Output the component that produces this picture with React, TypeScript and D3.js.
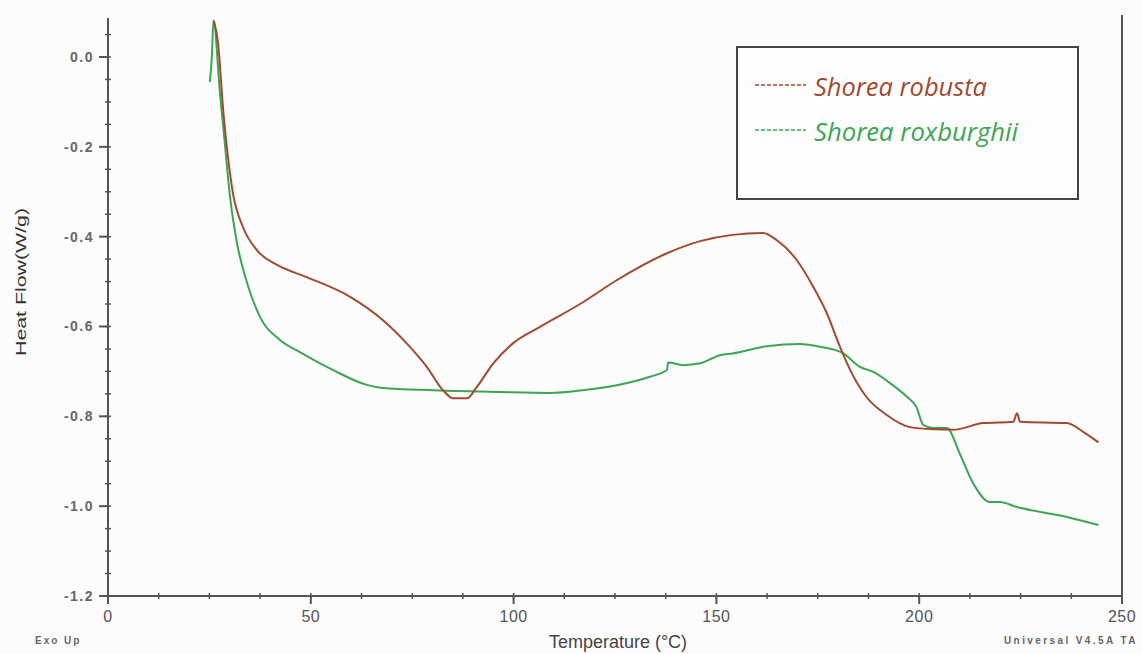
import React, { useEffect, useRef } from 'react';
import * as d3 from 'd3';

// Heat flow (W/g) vs temperature (°C)
const robustaTemp = [26.1, 27.1, 28.4, 30.8, 33.3, 36.7, 41.7, 49, 59.7, 67.8, 74.5, 78.6, 82.6, 85.1, 88.5, 90.9, 95, 99.9, 106.5, 117.1, 125.4, 137.8, 146, 154, 161.5, 164.9, 169.8, 173.9, 177.2, 180.5, 183, 187, 192, 197.7, 203.4, 208.4, 215.8, 223.2, 224.1, 224.9, 236.4, 240.5, 244.2];
const robustaFlow = [0.08, 0.033, -0.118, -0.303, -0.379, -0.43, -0.463, -0.49, -0.534, -0.586, -0.646, -0.69, -0.742, -0.76, -0.76, -0.735, -0.682, -0.637, -0.601, -0.546, -0.497, -0.437, -0.41, -0.396, -0.392, -0.408, -0.452, -0.512, -0.57, -0.646, -0.697, -0.757, -0.797, -0.824, -0.829, -0.83, -0.815, -0.812, -0.793, -0.812, -0.815, -0.835, -0.858];

const roxTemp = [25.1, 25.6, 26.0, 27.6, 28.8, 30.1, 31.8, 34.3, 37.5, 42.4, 47.3, 55.5, 63.8, 67.8, 80.2, 96.6, 109, 117, 125.4, 133.6, 137.8, 138.1, 141.8, 146, 150.9, 154, 162.4, 170.6, 175.5, 181.3, 185.4, 188.7, 192.8, 196.9, 199.3, 201, 203.4, 206.8, 210, 213.3, 217.5, 219.9, 224.1, 236.4, 244.2];
const roxFlow = [-0.056, 0.0, 0.082, -0.08, -0.192, -0.312, -0.414, -0.503, -0.579, -0.63, -0.657, -0.697, -0.73, -0.737, -0.742, -0.746, -0.748, -0.742, -0.731, -0.712, -0.697, -0.68, -0.686, -0.682, -0.664, -0.66, -0.644, -0.639, -0.645, -0.66, -0.69, -0.701, -0.726, -0.756, -0.779, -0.819, -0.826, -0.826, -0.883, -0.949, -0.991, -0.991, -1.002, -1.024, -1.042];

const xTicks = [0, 50, 100, 150, 200, 250];
const yTicks = [0.0, -0.2, -0.4, -0.6, -0.8, -1.0, -1.2];
const seriesNames = ['Shorea robusta', 'Shorea roxburghii'];
const seriesColors = ['#a24a30', '#3ca653'];

const App = () => {
  const ref = useRef(null);

  useEffect(() => {
    const W = 1142;
    const H = 654;
    const root = d3.select(ref.current);
    root.selectAll('*').remove();

    const svg = root.append('svg')
      .attr('width', W)
      .attr('height', H)
      .style('display', 'block')
      .style('background', '#fcfcfc');

    const x = d3.scaleLinear().domain([0, 250]).range([108, 1122]);
    const y = d3.scaleLinear().domain([-1.2, 0]).range([596, 57]);
    const yTop = 0.087;
    const axisColor = '#555';

    // Y axis
    svg.append('line')
      .attr('x1', x(0)).attr('x2', x(0))
      .attr('y1', y(yTop)).attr('y2', y(-1.2))
      .attr('stroke', axisColor).attr('stroke-width', 2);
    const yMinor = d3.range(-24, 2).map(i => i * 0.05);
    svg.selectAll('.ymin').data(yMinor).enter().append('line')
      .attr('x1', x(0) - 3).attr('x2', x(0) + 3)
      .attr('y1', d => y(d)).attr('y2', d => y(d))
      .attr('stroke', axisColor).attr('stroke-width', 1.5);
    svg.selectAll('.ymaj').data(yTicks).enter().append('line')
      .attr('x1', x(0) - 9).attr('x2', x(0))
      .attr('y1', d => y(d)).attr('y2', d => y(d))
      .attr('stroke', axisColor).attr('stroke-width', 2);
    svg.selectAll('.ylab').data(yTicks).enter().append('text')
      .attr('x', x(0) - 14)
      .attr('y', d => y(d))
      .attr('dy', '0.35em')
      .attr('text-anchor', 'end')
      .attr('font-family', 'Liberation Sans, Arial, sans-serif')
      .attr('font-weight', 'bold')
      .attr('font-size', 14)
      .attr('letter-spacing', 1.5)
      .attr('fill', '#666')
      .text(d => d3.format('.1f')(d).replace('−', '-'));

    // X axis
    svg.append('line')
      .attr('x1', x(0) - 8).attr('x2', x(250))
      .attr('y1', y(-1.2)).attr('y2', y(-1.2))
      .attr('stroke', axisColor).attr('stroke-width', 2);
    const xMinor = d3.range(0, 21).map(i => i * 12.5);
    svg.selectAll('.xmin').data(xMinor).enter().append('line')
      .attr('x1', d => x(d)).attr('x2', d => x(d))
      .attr('y1', y(-1.2) - 3).attr('y2', y(-1.2) + 3)
      .attr('stroke', axisColor).attr('stroke-width', 1.5);
    svg.selectAll('.xmaj').data(xTicks).enter().append('line')
      .attr('x1', d => x(d)).attr('x2', d => x(d))
      .attr('y1', y(-1.2)).attr('y2', y(-1.2) + 8)
      .attr('stroke', axisColor).attr('stroke-width', 2);
    svg.selectAll('.xlab').data(xTicks).enter().append('text')
      .attr('x', d => x(d))
      .attr('y', 622)
      .attr('text-anchor', 'middle')
      .attr('font-family', 'Liberation Sans, Arial, sans-serif')
      .attr('font-size', 16)
      .attr('letter-spacing', 0.5)
      .attr('fill', '#555')
      .text(d => d);

    // right frame line
    svg.append('line')
      .attr('x1', x(250)).attr('x2', x(250))
      .attr('y1', 15).attr('y2', y(-1.2))
      .attr('stroke', axisColor).attr('stroke-width', 2);

    // axis titles
    svg.append('text')
      .attr('x', 618).attr('y', 648)
      .attr('text-anchor', 'middle')
      .attr('font-family', 'Liberation Sans, Arial, sans-serif')
      .attr('font-size', 18)
      .attr('fill', '#444')
      .text('Temperature (°C)');
    svg.append('text')
      .attr('transform', 'translate(26,282) rotate(-90)')
      .attr('text-anchor', 'middle')
      .attr('font-family', 'Liberation Sans Narrow, Arial, sans-serif')
      .attr('font-size', 14)
      .attr('textLength', 148)
      .attr('lengthAdjust', 'spacingAndGlyphs')
      .attr('fill', '#333')
      .text('Heat Flow(W/g)');
    svg.append('text')
      .attr('x', 35).attr('y', 644)
      .attr('font-family', 'Liberation Sans, Arial, sans-serif')
      .attr('font-weight', 'bold')
      .attr('font-size', 10)
      .attr('letter-spacing', 2)
      .attr('fill', '#666')
      .text('Exo Up');
    svg.append('text')
      .attr('x', 1004).attr('y', 644)
      .attr('font-family', 'Liberation Sans, Arial, sans-serif')
      .attr('font-weight', 'bold')
      .attr('font-size', 10)
      .attr('letter-spacing', 2.4)
      .attr('fill', '#666')
      .text('Universal V4.5A TA');

    // curves
    const line = d3.line()
      .x(d => x(d[0]))
      .y(d => y(d[1]))
      .curve(d3.curveMonotoneX);
    const series = [
      robustaTemp.map((t, i) => [t, robustaFlow[i]]),
      roxTemp.map((t, i) => [t, roxFlow[i]]),
    ];
    [1, 0].forEach(i => {
      svg.append('path')
        .datum(series[i])
        .attr('fill', 'none')
        .attr('stroke', seriesColors[i])
        .attr('stroke-width', 2)
        .attr('d', line);
    });

    // legend
    svg.append('rect')
      .attr('x', 737).attr('y', 47)
      .attr('width', 341).attr('height', 152)
      .attr('fill', '#fdfdfd')
      .attr('stroke', '#444')
      .attr('stroke-width', 2);
    const legendLen = [173, 204];
    seriesNames.forEach((name, i) => {
      const ly = 85 + i * 45;
      svg.append('line')
        .attr('x1', 755).attr('x2', 806)
        .attr('y1', ly).attr('y2', ly)
        .attr('stroke', seriesColors[i])
        .attr('stroke-width', 1.5)
        .attr('stroke-dasharray', '4,2');
      svg.append('text')
        .attr('x', 814).attr('y', ly + 11)
        .attr('font-family', 'Open Sans, sans-serif')
        .attr('font-style', 'italic')
        .attr('font-size', 25)
        .attr('textLength', legendLen[i])
        .attr('lengthAdjust', 'spacingAndGlyphs')
        .attr('fill', seriesColors[i])
        .text(name);
    });
  }, []);

  return <div ref={ref} style={{ position: 'absolute', left: 0, top: 0 }}></div>;
};

export default App;
